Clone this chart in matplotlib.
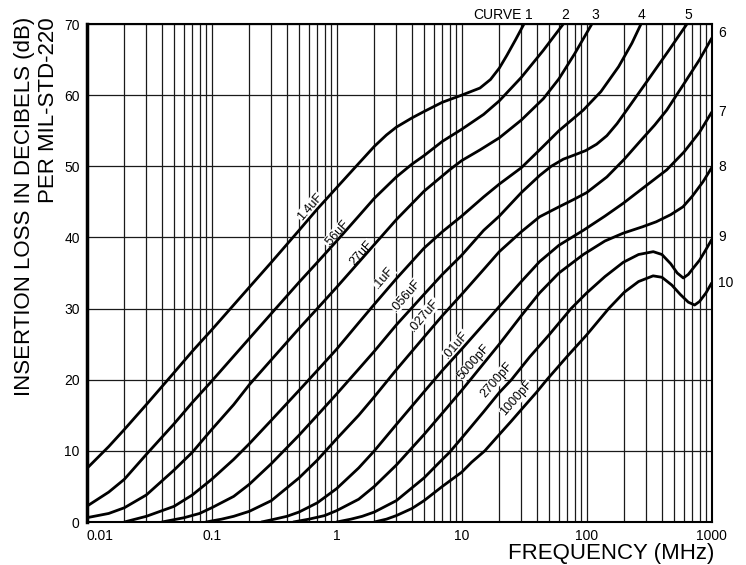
import numpy as np
import matplotlib.pyplot as plt
from matplotlib.transforms import blended_transform_factory

plt.rcParams['font.family'] = ['Liberation Sans', 'DejaVu Sans']

# curve data: frequency (MHz) and insertion loss (dB)
c1_f = [0.01, 0.015, 0.02, 0.03, 0.05, 0.07, 0.1, 0.2, 0.3, 0.5, 0.7, 1, 1.5, 2, 2.5, 3, 4, 5, 7, 10, 14, 17, 20, 23, 27, 31.5]
c1_db = [7.5, 10.6, 13.0, 16.5, 21.0, 24.0, 27.0, 33.0, 36.5, 41.0, 44.0, 47.0, 50.4, 52.8, 54.4, 55.5, 56.8, 57.7, 59.0, 60.0, 61.0, 62.2, 63.8, 65.6, 67.8, 70]

c2_f = [0.01, 0.015, 0.02, 0.03, 0.05, 0.07, 0.1, 0.2, 0.3, 0.5, 0.7, 1, 1.5, 2, 3, 4, 5, 7, 10, 15, 20, 30, 45, 65]
c2_db = [2.2, 4.2, 6.0, 9.5, 13.8, 16.8, 19.8, 25.8, 29.3, 33.7, 36.5, 39.5, 43.0, 45.5, 48.5, 50.3, 51.5, 53.5, 55.2, 57.3, 59.2, 62.5, 66.3, 70]

c3_f = [0.01, 0.015, 0.02, 0.03, 0.05, 0.07, 0.1, 0.15, 0.2, 0.3, 0.5, 0.7, 1, 1.5, 2, 3, 5, 8, 10, 14, 20, 30, 45, 60, 80, 110]
c3_db = [0.6, 1.2, 2.0, 3.8, 7.3, 9.8, 13.0, 16.5, 19.3, 22.8, 27.2, 30.0, 33.0, 36.5, 39.0, 42.5, 46.5, 49.5, 50.8, 52.3, 54.0, 56.5, 59.5, 62.3, 65.8, 70]

c4_f = [0.02, 0.03, 0.05, 0.07, 0.1, 0.15, 0.2, 0.3, 0.5, 0.7, 1, 1.5, 2, 3, 5, 7, 10, 15, 20, 30, 42, 60, 94, 130, 180, 230, 272]
c4_db = [0.0, 0.8, 2.2, 3.8, 6.0, 8.8, 11.0, 14.3, 18.5, 21.3, 24.3, 28.0, 30.6, 34.2, 38.5, 40.8, 43.0, 45.7, 47.5, 49.8, 52.3, 55.0, 57.9, 60.5, 64.0, 67.3, 70]

c5_f = [0.04, 0.06, 0.08, 0.1, 0.15, 0.2, 0.3, 0.5, 0.7, 1, 1.5, 2, 3, 5, 7, 10, 15, 20, 30, 42, 52, 65, 80, 98, 120, 145, 175, 209, 300, 450, 634]
c5_db = [0.0, 0.6, 1.2, 2.0, 3.6, 5.3, 8.2, 12.2, 15.0, 18.0, 21.5, 24.0, 27.7, 32.0, 34.8, 37.5, 41.0, 43.0, 46.3, 48.7, 50.0, 51.0, 51.6, 52.2, 53.1, 54.3, 56.0, 57.9, 61.8, 66.2, 70]

c6_f = [0.09, 0.12, 0.15, 0.2, 0.3, 0.5, 0.7, 1, 1.5, 2, 3, 5, 7, 10, 15, 20, 30, 42, 60, 78, 100, 145, 200, 267, 350, 437, 600, 800, 1000]
c6_db = [0.0, 0.4, 0.8, 1.5, 3.0, 6.2, 8.7, 11.7, 15.0, 17.6, 21.4, 26.0, 29.0, 32.0, 35.5, 38.0, 40.8, 42.9, 44.3, 45.3, 46.3, 48.5, 51.0, 53.5, 55.8, 57.9, 61.6, 65.0, 68.0]

c7_f = [0.25, 0.3, 0.4, 0.5, 0.7, 1, 1.5, 2, 3, 5, 7, 10, 15, 20, 30, 42, 60, 94, 140, 196, 300, 437, 600, 800, 1000]
c7_db = [0.0, 0.3, 0.8, 1.4, 2.7, 4.7, 7.6, 10.0, 13.7, 18.3, 21.3, 24.3, 27.8, 30.3, 33.8, 36.6, 38.9, 41.0, 43.0, 44.8, 47.3, 49.5, 52.0, 54.8, 57.6]

c8_f = [0.45, 0.6, 0.8, 1, 1.5, 2, 3, 5, 7, 10, 15, 20, 30, 42, 60, 94, 140, 196, 280, 360, 470, 589, 700, 850, 1000]
c8_db = [0.0, 0.4, 0.9, 1.6, 3.2, 5.0, 8.0, 12.3, 15.3, 18.5, 22.3, 25.0, 29.0, 32.2, 35.0, 37.6, 39.5, 40.6, 41.5, 42.2, 43.2, 44.3, 45.8, 47.8, 49.8]

c9_f = [1.0, 1.3, 1.6, 2, 3, 5, 7, 8, 10, 15, 20, 25, 35, 50, 75, 100, 140, 196, 260, 341, 400, 470, 530, 593, 650, 720, 800, 900, 1000]
c9_db = [0.0, 0.4, 0.8, 1.4, 3.0, 6.2, 8.8, 9.8, 11.8, 15.5, 18.2, 20.0, 23.2, 26.3, 30.0, 32.2, 34.5, 36.5, 37.6, 38.0, 37.6, 36.3, 35.0, 34.3, 34.8, 35.8, 36.8, 38.3, 39.7]

c10_f = [2.0, 2.5, 3, 4, 5, 7, 10, 12, 15.3, 20, 25, 30, 40, 48, 70, 100, 150, 200, 260, 340, 400, 480, 560, 650, 730, 800, 900, 1000]
c10_db = [0.0, 0.4, 0.9, 1.9, 3.0, 5.0, 7.0, 8.4, 10.0, 12.3, 14.2, 15.8, 18.3, 20.0, 23.3, 26.3, 30.0, 32.3, 33.8, 34.6, 34.4, 33.3, 32.0, 30.9, 30.5, 31.0, 32.2, 33.6]

cap_labels = ['1.4uF', '.56uF', '27uF', '.1uF', '.056uF', '.027uF', '.01uF', '5000pF', '2700pF', '1000pF']
curve_nums = ['1', '2', '3', '4', '5', '6', '7', '8', '9', '10']

xticks = [0.01, 0.1, 1, 10, 100, 1000]
xtick_labels = ['0.01', '0.1', '1', '10', '100', '1000']
yticks = [0, 10, 20, 30, 40, 50, 60, 70]

curves = [(c1_f, c1_db), (c2_f, c2_db), (c3_f, c3_db), (c4_f, c4_db), (c5_f, c5_db),
          (c6_f, c6_db), (c7_f, c7_db), (c8_f, c8_db), (c9_f, c9_db), (c10_f, c10_db)]

fig = plt.figure(figsize=(7.46, 5.65), dpi=100)
ax = fig.add_axes([0.1162, 0.0761, 0.8378, 0.8814])

ax.set_xscale('log')
ax.set_xlim(0.01, 1000)
ax.set_ylim(0, 70)

# grid: every 1..9 per decade, every 10 dB
for dec in [0.01, 0.1, 1, 10, 100]:
    for k in range(1, 10):
        ax.axvline(dec * k, color='#1a1a1a', lw=0.9, zorder=1)
for y in yticks:
    ax.axhline(y, color='#1a1a1a', lw=0.9, zorder=1)

for f, db in curves:
    ax.plot(f, db, color='black', lw=2.0, solid_capstyle='round',
            solid_joinstyle='round', zorder=4)

# capacitance labels along the curves (f, dB of label centre)
label_pos = [(0.61, 44.3), (1.0, 40.6), (1.585, 37.8), (2.40, 34.3), (3.58, 31.9),
             (5.02, 29.1), (9.0, 24.9), (12.6, 22.5), (19.05, 20.0), (27.5, 17.4)]
for txt, (lf, ld) in zip(cap_labels, label_pos):
    ax.text(lf, ld, txt, rotation=49, ha='center', va='center', fontsize=9,
            rotation_mode='anchor', zorder=3,
            bbox=dict(facecolor='white', edgecolor='none', pad=0.3))

# curve numbers, top and right
top = blended_transform_factory(ax.transData, ax.transAxes)
ax.text(30.2, 1.018, 'CURVE', transform=top, ha='right', va='center', fontsize=10)
top_f = [34.5, 67, 116.5, 275, 646]
for num, tf in zip(curve_nums[:5], top_f):
    ax.text(tf, 1.018, num, transform=top, ha='center', va='center', fontsize=10)

right = blended_transform_factory(ax.transAxes, ax.transData)
right_db = [68.7, 57.6, 49.9, 40.1, 33.6]
for num, rd in zip(curve_nums[5:], right_db):
    ax.text(1.010, rd, num, transform=right, ha='left', va='center', fontsize=10)

ax.set_xticks(xticks)
ax.set_xticklabels(xtick_labels, fontsize=10)
ax.xaxis.set_minor_locator(plt.NullLocator())
ax.set_yticks(yticks)
ax.set_yticklabels([str(v) for v in yticks], fontsize=10)
ax.tick_params(length=0, pad=5)
ax.get_xticklabels()[0].set_ha('left')

for s in ['top', 'right', 'bottom']:
    ax.spines[s].set_linewidth(1.5)
ax.spines['left'].set_linewidth(2.5)

fig.text(0.958, 0.021, 'FREQUENCY (MHz)', ha='right', va='center', fontsize=16)
fig.text(25 / 746, 0.970, 'INSERTION LOSS IN DECIBELS (dB)', rotation=90,
         ha='center', va='top', fontsize=16)
fig.text(49 / 746, 0.970, 'PER MIL-STD-220', rotation=90,
         ha='center', va='top', fontsize=16)

plt.savefig('out.png', dpi=100)
